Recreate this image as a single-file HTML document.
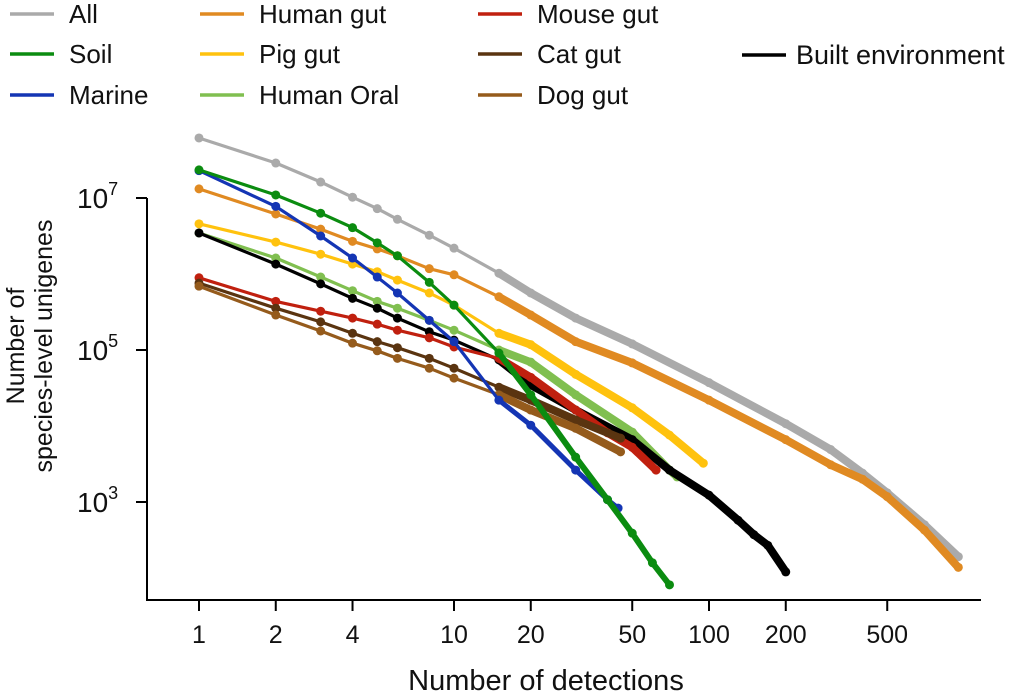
<!DOCTYPE html>
<html><head><meta charset="utf-8"><style>
html,body{margin:0;padding:0;background:#fff;}
svg{display:block;font-family:"Liberation Sans",Arial,sans-serif;}
</style></head><body>
<svg id="chart" width="1022" height="692" viewBox="0 0 1022 692"></svg>
<script>
const seriesNames = ["All","Soil","Marine","Human gut","Pig gut","Human Oral","Mouse gut","Cat gut","Dog gut","Built environment"];
const seriesColors = ["#aaaaaa","#0b8c10","#1435b4","#e08a22","#ffc20e","#80bf50","#c0200f","#5a3410","#955b1c","#000000"];
const allX = [1,2,3,4,5,6,8,10,15,20,30,50,100,200,300,400,500,700,950];
const allY = [7.79,7.46,7.21,7.01,6.86,6.72,6.51,6.34,6.01,5.75,5.42,5.08,4.57,4.03,3.69,3.38,3.12,2.70,2.28];
const soilX = [1,2,3,4,5,6,8,10,15,20,30,40,50,60,70];
const soilY = [7.37,7.04,6.80,6.61,6.41,6.24,5.89,5.59,4.96,4.41,3.59,3.03,2.59,2.20,1.91];
const marineX = [1,2,3,4,5,6,8,10,15,20,30,40,44];
const marineY = [7.36,6.89,6.50,6.21,5.96,5.75,5.39,5.11,4.34,4.01,3.42,3.03,2.92];
const humanGutX = [1,2,3,4,5,6,8,10,15,20,30,50,100,200,300,400,500,700,950];
const humanGutY = [7.12,6.79,6.59,6.43,6.33,6.24,6.07,5.99,5.70,5.46,5.11,4.83,4.34,3.82,3.49,3.30,3.07,2.63,2.14];
const pigGutX = [1,2,3,4,5,6,8,10,15,20,30,50,70,95];
const pigGutY = [6.66,6.42,6.26,6.13,6.03,5.92,5.75,5.59,5.22,5.07,4.68,4.24,3.88,3.51];
const oralX = [1,2,3,4,5,6,8,10,15,20,30,50,70,75];
const oralY = [6.54,6.21,5.96,5.78,5.64,5.55,5.39,5.26,5.00,4.84,4.41,3.92,3.42,3.33];
const mouseX = [1,2,3,4,5,6,8,10,15,20,30,40,50,62];
const mouseY = [5.95,5.64,5.51,5.42,5.34,5.26,5.16,5.04,4.89,4.64,4.21,3.91,3.72,3.42];
const catX = [1,2,3,4,5,6,8,10,15,20,30,45];
const catY = [5.88,5.55,5.37,5.22,5.11,5.03,4.89,4.76,4.51,4.34,4.08,3.84];
const dogX = [1,2,3,4,5,6,8,10,15,20,30,45];
const dogY = [5.84,5.46,5.25,5.09,4.99,4.89,4.76,4.63,4.41,4.21,3.97,3.66];
const builtX = [1,2,3,4,5,6,8,10,15,20,30,50,70,100,130,150,170,200];
const builtY = [6.54,6.13,5.87,5.68,5.55,5.42,5.24,5.13,4.87,4.54,4.21,3.82,3.42,3.09,2.76,2.57,2.43,2.08];
const xTicks = [1,2,4,10,20,50,100,200,500];
const yTicks = [7,5,3];

const NS="http://www.w3.org/2000/svg";
const svg=document.getElementById('chart');
function xs(d){return 199+255*Math.log10(d);}
function ys(l){return 198+76*(7-l);}
function mk(tag,attrs,parent){const e=document.createElementNS(NS,tag);for(const k in attrs)e.setAttribute(k,attrs[k]);(parent||svg).appendChild(e);return e;}

const yAxis=mk('line',{x1:147,y1:198,x2:147,y2:600,stroke:'#000','stroke-width':2});


const xAxis=mk('line',{x1:146,y1:600,x2:981,y2:600,stroke:'#000','stroke-width':2});


xTicks.forEach(t=>{
  const x=xs(t);
  const tk=mk('line',{x1:x,y1:600,x2:x,y2:611,stroke:'#000','stroke-width':2});
  
  
  const tx=mk('text',{x:x,y:643,'font-size':25,'text-anchor':'middle',fill:'#111'});
  tx.textContent=String(t);
  
  
});
yTicks.forEach(t=>{
  const y=ys(t);
  const tk=mk('line',{x1:136,y1:y,x2:147,y2:y,stroke:'#000','stroke-width':2});
  
  
  const tx=mk('text',{x:77,y:y+10,'font-size':28,fill:'#111'});
  tx.textContent='10';
  const sp=mk('tspan',{dy:-13,'font-size':18},tx);
  sp.textContent=String(t);
  
  
});
const xt=mk('text',{x:546,y:690,'font-size':29,'text-anchor':'middle',fill:'#111'});
xt.textContent='Number of detections';


const yt=mk('text',{transform:'translate(24,346) rotate(-90)','font-size':25,'text-anchor':'middle',fill:'#111'});
const t1=mk('tspan',{x:0,dy:0},yt);t1.textContent='Number of';
const t2=mk('tspan',{x:0,dy:28},yt);t2.textContent='species-level unigenes';



const data=[[allX,allY],[soilX,soilY],[marineX,marineY],[humanGutX,humanGutY],[pigGutX,pigGutY],[oralX,oralY],[mouseX,mouseY],[catX,catY],[dogX,dogY],[builtX,builtY]];
const tailWidth=[8,6,5,8,8,8,8,8,8,8];
const order=[0,3,4,5,9,6,7,8,2,1];
order.forEach(i=>{
  const [X,Y]=data[i];const c=seriesColors[i];
  const g=mk('g',{});
  
  
  const pts=X.map((d,k)=>xs(d).toFixed(1)+','+ys(Y[k]).toFixed(1)).join(' ');
  const pl=mk('polyline',{points:pts,fill:'none',stroke:c,'stroke-width':3.2,'stroke-linejoin':'round'},g);
  
  
  const tail=X.map((d,k)=>[d,Y[k]]).filter(p=>p[0]>=15);
  if(tail.length>1){
    const tp=mk('polyline',{points:tail.map(p=>xs(p[0]).toFixed(1)+','+ys(p[1]).toFixed(1)).join(' '),fill:'none',stroke:c,'stroke-width':tailWidth[i],'stroke-linejoin':'round','stroke-linecap':'round'},g);
    
    
  }
  X.forEach((d,k)=>{
    const p=mk('circle',{cx:xs(d),cy:ys(Y[k]),r:4.5,fill:c},g);
    
    
  });
});

const legendPos=[[10,14],[10,54],[10,95],[200,14],[200,54],[200,95],[478,14],[478,54],[478,95],[742,55]];
seriesNames.forEach((n,i)=>{
  const [lx,ly]=legendPos[i];
  const g=mk('g',{});
  
  
  mk('line',{x1:lx,y1:ly,x2:lx+44,y2:ly,stroke:seriesColors[i],'stroke-width':3.5},g);
  const t=mk('text',{x:lx+(i===9?54:59),y:ly+9,'font-size':i===9?27:26,fill:'#111'},g);
  t.textContent=n;
});
</script>
</body></html>
